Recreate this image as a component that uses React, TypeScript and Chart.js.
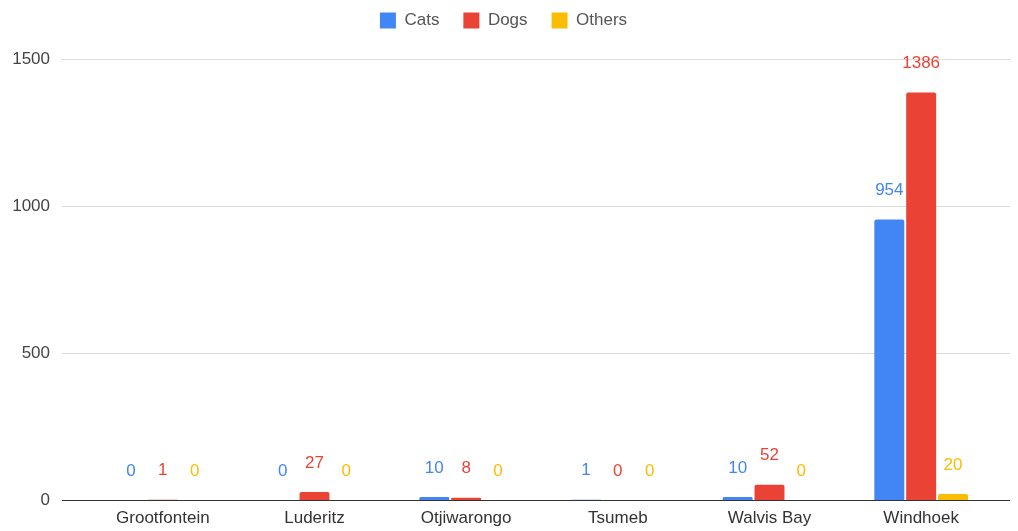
import React, { useEffect, useRef } from "react";
import { Chart, registerables } from "chart.js";

Chart.register(...registerables);

const categories = ["Grootfontein", "Luderitz", "Otjiwarongo", "Tsumeb", "Walvis Bay", "Windhoek"];
const cats = [0, 0, 10, 1, 10, 954];
const dogs = [1, 27, 8, 0, 52, 1386];
const others = [0, 0, 0, 0, 0, 20];
const yTicks = [0, 500, 1000, 1500];

const FONT = "'Liberation Sans', Arial, sans-serif";
const COLORS = ["#4285F4", "#EA4335", "#FBBC04"];

const gridPlugin = {
  id: "customGrid",
  beforeDatasetsDraw(chart: any) {
    const { ctx } = chart;
    const y = chart.scales.y;
    ctx.save();
    yTicks.forEach((v) => {
      const py = Math.round(y.getPixelForValue(v)) + 0.5;
      ctx.beginPath();
      ctx.strokeStyle = v === 0 ? "#333333" : "#dddddd";
      ctx.lineWidth = 1;
      ctx.moveTo(62, py);
      ctx.lineTo(1010, py);
      ctx.stroke();
      ctx.fillStyle = "#444444";
      ctx.font = `17px ${FONT}`;
      ctx.textAlign = "right";
      ctx.textBaseline = "middle";
      ctx.fillText(String(v), 50, py);
    });
    ctx.restore();
  },
};

const labelPlugin = {
  id: "dataLabels",
  afterDatasetsDraw(chart: any) {
    const { ctx } = chart;
    ctx.save();
    ctx.font = `17px ${FONT}`;
    ctx.textAlign = "center";
    ctx.textBaseline = "middle";
    chart.data.datasets.forEach((ds: any, i: number) => {
      const meta = chart.getDatasetMeta(i);
      meta.data.forEach((el: any, j: number) => {
        ctx.fillStyle = COLORS[i];
        ctx.fillText(String(ds.data[j]), el.x, el.y - 29);
      });
    });
    ctx.restore();
  },
};

const legendSpacePlugin = {
  id: "legendSpace",
  beforeInit(chart: any) {
    const legend = chart.legend;
    if (!legend) return;
    const origFit = legend.fit;
    legend.fit = function () {
      origFit.call(this);
      this.height += 20;
    };
  },
};

export default function App() {
  const ref = useRef<HTMLCanvasElement>(null);
  useEffect(() => {
    if (!ref.current) return;
    const chart = new Chart(ref.current, {
      type: "bar",
      data: {
        labels: categories,
        datasets: [
          { label: "Cats", data: cats, backgroundColor: COLORS[0] },
          { label: "Dogs", data: dogs, backgroundColor: COLORS[1] },
          { label: "Others", data: others, backgroundColor: COLORS[2] },
        ].map((d) => ({ ...d, categoryPercentage: 0.63, barPercentage: 0.94, borderRadius: 2 })),
      },
      options: {
        responsive: false,
        animation: false,
        layout: { padding: { left: 10, right: 21, top: -12, bottom: 0 } },
        plugins: {
          legend: {
            position: "top",
            labels: {
              boxWidth: 16,
              boxHeight: 16,
              padding: 24,
              color: "#555555",
              font: { family: FONT, size: 17 },
            },
          },
          tooltip: { enabled: false },
        },
        scales: {
          x: {
            grid: { display: false, drawTicks: false },
            border: { display: false },
            ticks: { color: "#333333", font: { family: FONT, size: 17 }, padding: 8, maxRotation: 0 },
            afterFit: (scale: any) => {
              scale.height = 31;
            },
          },
          y: {
            min: 0,
            max: 1500,
            grid: { display: false, drawTicks: false },
            border: { display: false },
            ticks: { display: false, stepSize: 500 },
            afterFit: (scale: any) => {
              scale.width = 77;
            },
          },
        },
      },
      plugins: [legendSpacePlugin, gridPlugin, labelPlugin],
    });
    return () => chart.destroy();
  }, []);
  return (
    <div style={{ position: "fixed", left: 0, top: 0, width: 1018, height: 531, background: "#fff" }}>
      <canvas ref={ref} width={1018} height={531} style={{ display: "block" }} />
    </div>
  );
}
